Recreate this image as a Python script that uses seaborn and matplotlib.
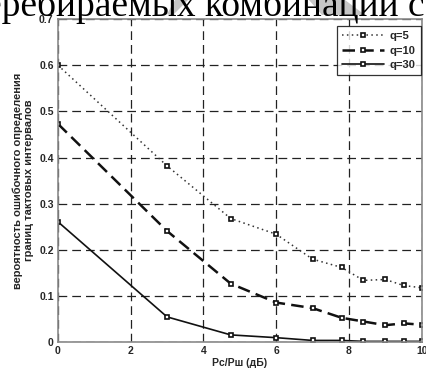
import matplotlib
matplotlib.use("Agg")
import matplotlib.pyplot as plt
import seaborn as sns
import pandas as pd
from matplotlib.patches import Polygon

# SNR values (dB) and error probabilities for each q
snr_db = [0, 3, 4.75, 6, 7, 7.8, 8.4, 9, 9.5, 10]
p_q5 = [0.600, 0.382, 0.268, 0.234, 0.180, 0.162, 0.134, 0.136, 0.123, 0.118]
p_q10 = [0.473, 0.241, 0.127, 0.086, 0.074, 0.053, 0.045, 0.037, 0.041, 0.038]
p_q30 = [0.261, 0.055, 0.016, 0.010, 0.004, 0.004, 0.002, 0.002, 0.002, 0.002]
series_names = ["q=5", "q=10", "q=30"]

x_ticks = [0, 2, 4, 6, 8, 10]
y_ticks = [0, 0.1, 0.2, 0.3, 0.4, 0.5, 0.6, 0.7]
y_tick_labels = ["0", "0.1", "0.2", "0.3", "0.4", "0.5", "0.6", "0.7"]

df = pd.DataFrame({
    "snr": snr_db * 3,
    "p": p_q5 + p_q10 + p_q30,
    "q": [series_names[0]] * len(snr_db) + [series_names[1]] * len(snr_db)
         + [series_names[2]] * len(snr_db),
})

sns.set_style("white")
plt.rcParams["font.family"] = ["Liberation Sans", "DejaVu Sans"]

fig = plt.figure(figsize=(4.27, 3.69), dpi=100)
ax = fig.add_axes([0.1356, 0.0724, 0.8520, 0.8761])

styles = {
    "q=5": dict(linestyle=(0, (1, 2.2)), linewidth=1.1, color="#333333"),
    "q=10": dict(linestyle=(0, (5, 2.5)), linewidth=1.8, color="#111111"),
    "q=30": dict(linestyle="-", linewidth=1.2, color="#111111"),
}
for name in series_names:
    sub = df[df["q"] == name]
    st = styles[name]
    sns.lineplot(data=sub, x="snr", y="p", ax=ax, label=name,
                 color=st["color"], linewidth=st["linewidth"],
                 marker="s", markersize=3.4, markerfacecolor="white",
                 markeredgecolor="#111111", markeredgewidth=1.2)
    ax.lines[-1].set_linestyle(st["linestyle"])

ax.set_xlim(0, 10)
ax.set_ylim(0, 0.7)
ax.set_xticks(x_ticks)
ax.set_yticks(y_ticks)
ax.set_yticklabels(y_tick_labels)
ax.tick_params(axis="both", length=0, pad=3, labelsize=7.5)
for lab in ax.get_xticklabels() + ax.get_yticklabels():
    lab.set_fontweight("bold")

ax.grid(True, color="#222222", linestyle=(0, (7, 4)), linewidth=0.9)
ax.set_axisbelow(True)
for sp in ax.spines.values():
    sp.set_color("#8a8a8a")
    sp.set_linewidth(1.2)

ax.set_xlabel("Рс/Рш (дБ)", fontsize=7.5, fontweight="bold", labelpad=1)
ax.set_ylabel("вероятность ошибочного определения\nграниц тактовых интервалов",
              fontsize=8, fontweight="bold", labelpad=4, linespacing=1.1)

leg = ax.legend(loc="upper right", fontsize=8, frameon=True, fancybox=False,
                borderpad=0.45, handlelength=3.8, handletextpad=0.5,
                labelspacing=0.4, borderaxespad=0.0,
                bbox_to_anchor=(0.997, 0.978))
leg.get_frame().set_edgecolor("black")
leg.get_frame().set_linewidth(0.9)
for t in leg.get_texts():
    t.set_fontweight("bold")

# Light watermark bands and the line of body text above the chart
W, H = 427.0, 369.0


def fig_pts(pts):
    return [[x / W, 1 - y / H] for x, y in pts]


for shape in ([(175, 0), (188, 0), (172, 16), (167, 14)],
              [(309, 0), (345, 0), (365, 15), (322, 15)]):
    fig.patches.append(Polygon(fig_pts(shape), closed=True,
                               transform=fig.transFigure,
                               facecolor="#c6c6c6", edgecolor="none", zorder=0))

fig.text(425 / W, 1 - 16.5 / H, "перебираемых комбинаций с", ha="right",
         va="baseline", fontsize=27, family="Liberation Serif", color="black")

fig.savefig("out.png", dpi=100)
